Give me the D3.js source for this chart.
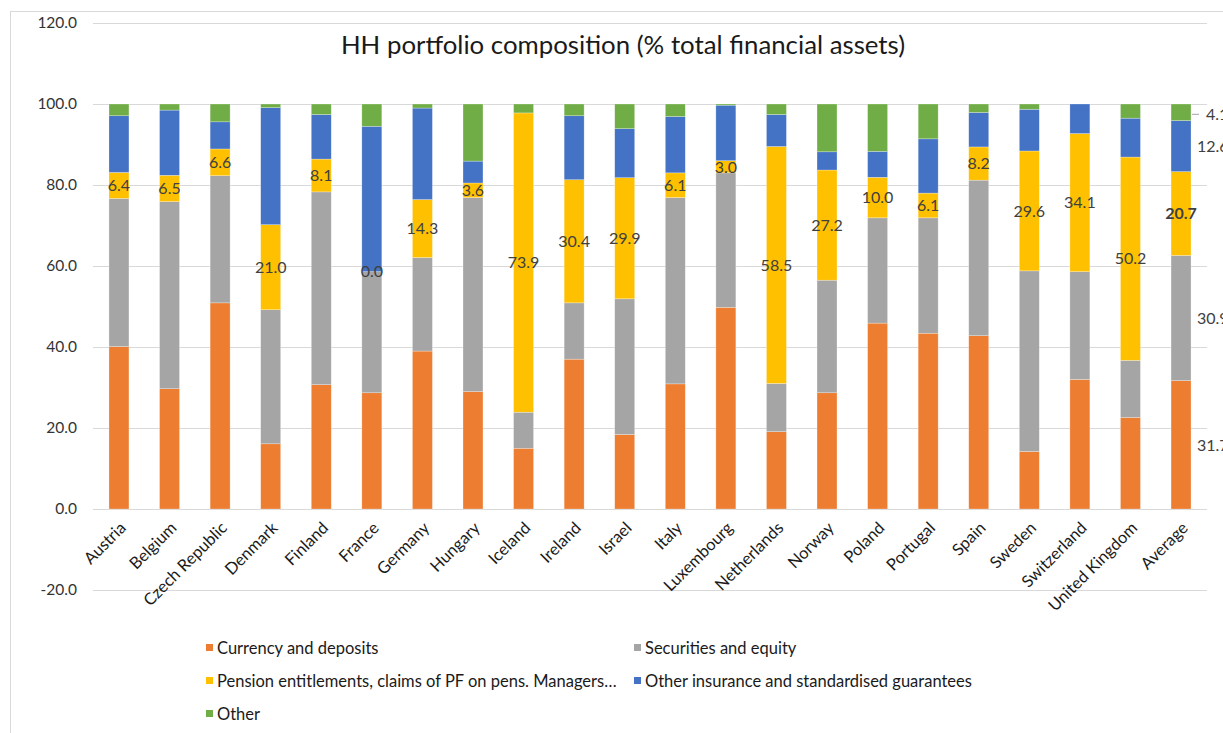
<!DOCTYPE html>
<html>
<head>
<meta charset="utf-8">
<script src="https://cdn.jsdelivr.net/npm/d3@7/dist/d3.min.js"></script>
<style>
  html, body { margin: 0; padding: 0; background: #fff; }
  svg { display: block; font-family: Lato, "Open Sans", sans-serif; }
</style>
</head>
<body>
<svg id="chart" width="1223" height="733"></svg>
<script>
// Household portfolio composition by country (% of total financial assets)
const categories = ["Austria", "Belgium", "Czech Republic", "Denmark", "Finland", "France",
  "Germany", "Hungary", "Iceland", "Ireland", "Israel", "Italy", "Luxembourg", "Netherlands",
  "Norway", "Poland", "Portugal", "Spain", "Sweden", "Switzerland", "United Kingdom", "Average"];

const currencyDeposits = [40.1, 29.7, 50.9, 16.1, 30.7, 28.7, 39.0, 29.0, 15.0, 37.0, 18.4,
  30.9, 49.8, 19.1, 28.7, 45.9, 43.4, 42.8, 14.2, 32.0, 22.6, 31.7];
const securitiesEquity = [36.6, 46.2, 31.4, 33.1, 47.6, 29.9, 23.1, 47.9, 8.9, 13.9, 33.5,
  46.0, 33.2, 11.9, 27.8, 26.0, 28.5, 38.4, 44.6, 26.6, 14.1, 30.9];
const pensionEntitlements = [6.4, 6.5, 6.6, 21.0, 8.1, 0.0, 14.3, 3.6, 73.9, 30.4, 29.9,
  6.1, 3.0, 58.5, 27.2, 10.0, 6.1, 8.2, 29.6, 34.1, 50.2, 20.7];
const otherInsurance = [14.0, 16.1, 6.7, 28.9, 11.0, 35.9, 22.6, 5.4, 0.0, 15.8, 12.1,
  13.9, 13.7, 7.9, 4.5, 6.4, 13.4, 8.5, 10.3, 7.3, 9.6, 12.6];
const otherAssets = [2.9, 1.5, 4.4, 0.9, 2.6, 5.5, 1.0, 14.1, 2.2, 2.9, 6.1,
  3.1, 0.3, 2.6, 11.8, 11.7, 8.6, 2.1, 1.3, 0.0, 3.5, 4.1];

const seriesNames = ["Currency and deposits", "Securities and equity",
  "Pension entitlements, claims of PF on pens. Managers…",
  "Other insurance and standardised guarantees", "Other"];
const seriesColors = ["#ED7D31", "#A5A5A5", "#FFC000", "#4472C4", "#70AD47"];
const yTicks = [-20, 0, 20, 40, 60, 80, 100, 120];

const seriesValues = [currencyDeposits, securitiesEquity, pensionEntitlements, otherInsurance, otherAssets];
const keys = ["s0", "s1", "s2", "s3", "s4"];
const rows = categories.map((c, i) => {
  const r = { category: c };
  keys.forEach((k, j) => r[k] = seriesValues[j][i]);
  return r;
});

const fmt = v => v.toFixed(1);
const svg = d3.select("#chart");
const plot = { left: 93, right: 1207, top: 23, bottom: 590 };

// Chart area frame
svg.append("rect")
  .attr("x", 10.5).attr("y", 11.5)
  .attr("width", 1400).attr("height", 900)
  .attr("fill", "none").attr("stroke", "#d9d9d9").attr("stroke-width", 1);

const x = d3.scaleBand().domain(categories)
  .range([plot.left, plot.right]).paddingInner(0.605).paddingOuter(0.316);
const y = d3.scaleLinear().domain([-20, 120]).range([plot.bottom, plot.top]);

// Gridlines
svg.append("g").selectAll("line").data(yTicks).join("line")
  .attr("x1", plot.left).attr("x2", plot.right)
  .attr("y1", d => Math.round(y(d)) + 0.5).attr("y2", d => Math.round(y(d)) + 0.5)
  .attr("stroke", "#d9d9d9").attr("stroke-width", 1);

// Y axis labels
const yAxis = d3.axisLeft(y).tickValues(yTicks).tickFormat(fmt).tickSize(0).tickPadding(0);
const yG = svg.append("g").attr("transform", `translate(77,0)`).call(yAxis);
yG.select(".domain").remove();
yG.selectAll("text").attr("font-size", 15.5).attr("fill", "#333333")
  .attr("font-family", "Lato, sans-serif");

// Stacked bars
const stack = d3.stack().keys(keys)(rows);
const layers = svg.append("g").selectAll("g").data(stack).join("g")
  .attr("fill", (d, i) => seriesColors[i]);
layers.selectAll("rect").data(d => d).join("rect")
  .attr("x", d => x(d.data.category))
  .attr("width", x.bandwidth())
  .attr("y", d => y(d[1]))
  .attr("height", d => Math.max(0, y(d[0]) - y(d[1])))
  .attr("stroke", "#ffffff").attr("stroke-opacity", 0.45).attr("stroke-width", 0.6);

// X axis category labels
const xAxis = d3.axisBottom(x).tickSize(0).tickPadding(0);
const xG = svg.append("g").attr("transform", `translate(0,${y(0)})`).call(xAxis);
xG.select(".domain").remove();
xG.selectAll("text")
  .attr("font-size", 16.5).attr("fill", "#1a1a1a").attr("font-family", "Lato, sans-serif")
  .attr("text-anchor", "end").attr("dy", 0).attr("y", 0)
  .attr("transform", "translate(8,20) rotate(-45)");

// Pension data labels, centred in each segment
const pensionLayer = stack[2];
const lastIdx = categories.length - 1;
svg.append("g").selectAll("text").data(pensionLayer).join("text")
  .attr("x", d => x(d.data.category) + x.bandwidth() / 2)
  .attr("y", d => (y(d[0]) + y(d[1])) / 2)
  .attr("dy", "0.36em")
  .attr("text-anchor", "middle")
  .attr("font-size", 16)
  .attr("font-weight", (d, i) => i === lastIdx ? "bold" : "normal")
  .attr("fill", "#404040")
  .text(d => fmt(d.data.s2));

// Average column: labels for the remaining series, to the right of the bar
const avgRight = x("Average") + x.bandwidth();
const sideLabels = [0, 1, 3, 4].map(j => ({ j, seg: stack[j][lastIdx] }));
const side = svg.append("g");
sideLabels.forEach(({ j, seg }) => {
  const cy = (y(seg[0]) + y(seg[1])) / 2;
  if (j === 4) {
    side.append("line")
      .attr("x1", avgRight + 1).attr("x2", avgRight + 8)
      .attr("y1", cy + 2).attr("y2", cy + 2)
      .attr("stroke", "#a6a6a6").attr("stroke-width", 1);
    side.append("text").attr("x", avgRight + 15).attr("y", cy + 2).attr("dy", "0.36em")
      .attr("font-size", 16).attr("fill", "#404040")
      .text(fmt(seg.data[keys[j]]));
  } else {
    side.append("text").attr("x", avgRight + 6).attr("y", cy).attr("dy", "0.36em")
      .attr("font-size", 16).attr("fill", "#404040")
      .text(fmt(seg.data[keys[j]]));
  }
});

// Title
svg.append("text")
  .attr("x", 623).attr("y", 54)
  .attr("text-anchor", "middle")
  .attr("font-size", 25.8).attr("fill", "#1a1a1a")
  .text("HH portfolio composition (% total financial assets)");

// Legend
const legendItems = seriesNames.map((name, i) => ({ name, color: seriesColors[i],
  col: i % 2, row: Math.floor(i / 2) }));
const colX = [206, 634];
const rowY = [648, 681, 714];
const lg = svg.append("g").selectAll("g").data(legendItems).join("g")
  .attr("transform", d => `translate(${colX[d.col]},${rowY[d.row]})`);
lg.append("rect").attr("x", 0).attr("y", -4).attr("width", 7).attr("height", 7)
  .attr("fill", d => d.color);
lg.append("text").attr("x", 11).attr("y", 0).attr("dy", "0.35em")
  .attr("font-size", 16.5).attr("fill", "#1a1a1a")
  .text(d => d.name);
</script>
</body>
</html>
